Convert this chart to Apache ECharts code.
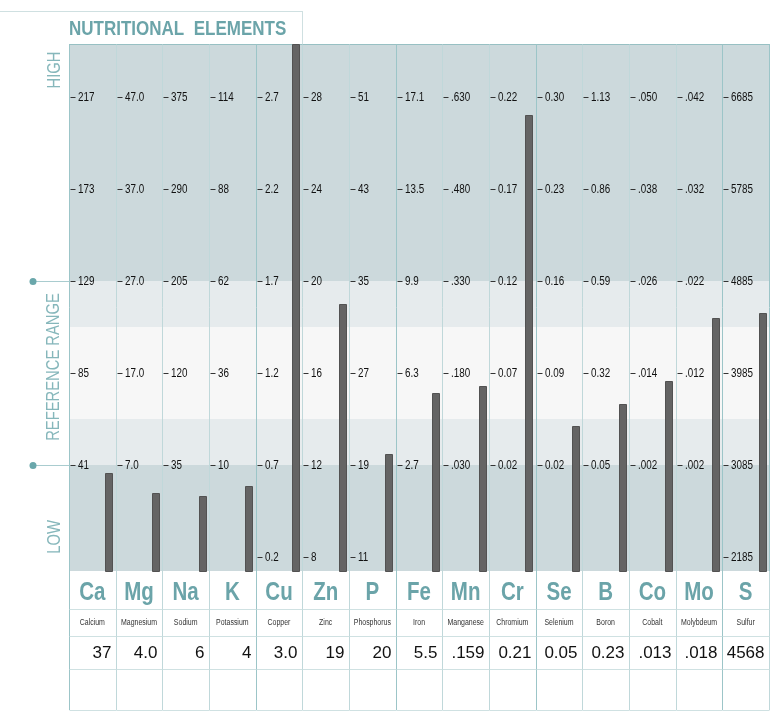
<!DOCTYPE html>
<html><head><meta charset="utf-8">
<script src="https://cdn.jsdelivr.net/npm/echarts@6/dist/echarts.min.js"></script>
<style>html,body{margin:0;padding:0;background:#fff}#c{width:782px;height:724px}</style>
</head><body><div id="c"></div>
<script>
const symbols = ['Ca','Mg','Na','K','Cu','Zn','P','Fe','Mn','Cr','Se','B','Co','Mo','S'];
const names = ['Calcium','Magnesium','Sodium','Potassium','Copper','Zinc','Phosphorus','Iron','Manganese','Chromium','Selenium','Boron','Cobalt','Molybdeum','Sulfur'];
const values = [37, 4.0, 6, 4, 3.0, 19, 20, 5.5, 0.159, 0.21, 0.05, 0.23, 0.013, 0.018, 4568];
const valueLabels = ['37','4.0','6','4','3.0','19','20','5.5','.159','0.21','0.05','0.23','.013','.018','4568'];
// per-element tick labels, from one step below the low reference limit up to the top
const tickLabels = [
  [null,'41','85','129','173','217'],
  [null,'7.0','17.0','27.0','37.0','47.0'],
  [null,'35','120','205','290','375'],
  [null,'10','36','62','88','114'],
  ['0.2','0.7','1.2','1.7','2.2','2.7'],
  ['8','12','16','20','24','28'],
  ['11','19','27','35','43','51'],
  [null,'2.7','6.3','9.9','13.5','17.1'],
  [null,'.030','.180','.330','.480','.630'],
  [null,'0.02','0.07','0.12','0.17','0.22'],
  [null,'0.02','0.09','0.16','0.23','0.30'],
  [null,'0.05','0.32','0.59','0.86','1.13'],
  [null,'.002','.014','.026','.038','.050'],
  [null,'.002','.012','.022','.032','.042'],
  ['2185','3085','3985','4885','5785','6685']
];
const groupStarts = [0, 4, 7, 10, 14];
const zoneLabels = ['HIGH', 'REFERENCE RANGE', 'LOW'];

// --- scales: each element is mapped to "levels" (0 = low ref limit, 2 = high ref limit)
const base = tickLabels.map(t => parseFloat(t[1]));
const step = tickLabels.map((t, i) => parseFloat(t[2]) - base[i]);
const levels = values.map((v, i) => (v - base[i]) / step[i]);
const LMIN = -1.152, LMAX = 4.576;

const SANS = "'Liberation Sans',Arial,sans-serif";
const NX = 0.82; // horizontal squeeze to mimic a narrow face
const TEAL = '#6ba4a9';
const SEP = '#c0d8da', SEP_DARK = '#9cc5c8';

const bandFrom = [LMIN, 0, 0.5, 1.5, 2];
const bandTo = [0, 0.5, 1.5, 2, LMAX];
const bandColor = ['#ccd9dc', '#e6ebed', '#f7f7f7', '#e6ebed', '#ccd9dc'];

const chart = echarts.init(document.getElementById('c'));
const idx = symbols.map((s, i) => i);

chart.setOption({
  animation: false,
  grid: [
    {left: 69, right: 13, top: 44, bottom: 153},
    {left: 69, right: 13, top: 571, bottom: 14}
  ],
  xAxis: [
    {type: 'category', gridIndex: 0, data: symbols, show: false},
    {type: 'category', gridIndex: 1, data: symbols, show: false}
  ],
  yAxis: [
    {type: 'value', gridIndex: 0, min: LMIN, max: LMAX, show: false},
    {type: 'value', gridIndex: 1, min: 0, max: 1, show: false}
  ],
  graphic: [
    {type: 'line', shape: {x1: 0, y1: 11.5, x2: 302, y2: 11.5}, style: {stroke: '#cfe0e1', lineWidth: 1}},
    {type: 'line', shape: {x1: 302.5, y1: 11, x2: 302.5, y2: 44}, style: {stroke: '#cfe0e1', lineWidth: 1}},
    {type: 'text', x: 69, y: 29, scaleX: 0.85, style: {text: 'NUTRITIONAL  ELEMENTS', font: 'bold 20px ' + SANS, fill: TEAL, verticalAlign: 'middle'}},
    {type: 'text', x: 55, y: 70, rotation: Math.PI / 2, scaleX: NX, style: {text: zoneLabels[0], font: '18px ' + SANS, fill: '#86b7bb', align: 'center', verticalAlign: 'middle'}},
    {type: 'text', x: 54, y: 367, rotation: Math.PI / 2, scaleX: NX, style: {text: zoneLabels[1], font: '18px ' + SANS, fill: '#86b7bb', align: 'center', verticalAlign: 'middle'}},
    {type: 'text', x: 55, y: 537, rotation: Math.PI / 2, scaleX: NX, style: {text: zoneLabels[2], font: '18px ' + SANS, fill: '#86b7bb', align: 'center', verticalAlign: 'middle'}}
  ],
  series: [
    { // background bands
      type: 'custom', xAxisIndex: 0, yAxisIndex: 0, z: 1,
      data: bandFrom.map((f, k) => [0, f, bandTo[k], k]),
      encode: {x: 0, y: [1, 2]},
      renderItem: (params, api) => {
        const cs = params.coordSys;
        const y1 = api.coord([0, api.value(2)])[1];
        const y2 = api.coord([0, api.value(1)])[1];
        return {type: 'rect', shape: {x: cs.x, y: y1, width: cs.width, height: y2 - y1},
          style: {fill: bandColor[api.value(3)]}};
      }
    },
    { // column separators, ticks and tick labels
      type: 'custom', xAxisIndex: 0, yAxisIndex: 0, z: 2,
      data: idx.map(i => [i, 0]),
      encode: {x: 0, y: 1},
      renderItem: (params, api) => {
        const i = api.value(0);
        const cs = params.coordSys;
        const w = api.size([1, 0])[0];
        const cx = api.coord([i, 0])[0];
        const left = Math.round(cx - w / 2) + 0.5;
        const right = Math.round(cx + w / 2) + 0.5;
        const ch = [];
        ch.push({type: 'line', shape: {x1: left, y1: cs.y, x2: left, y2: cs.y + cs.height},
          style: {stroke: groupStarts.includes(i) ? SEP_DARK : SEP, lineWidth: 1}});
        if (i === symbols.length - 1) {
          ch.push({type: 'line', shape: {x1: right, y1: cs.y, x2: right, y2: cs.y + cs.height},
            style: {stroke: SEP_DARK, lineWidth: 1}});
        }
        ch.push({type: 'line', shape: {x1: left, y1: cs.y + 0.5, x2: right, y2: cs.y + 0.5},
          style: {stroke: '#97c0c3', lineWidth: 1}});
        tickLabels[i].forEach((t, k) => {
          if (t === null) return;
          const y = Math.round(api.coord([i, k - 1])[1]) + 0.5;
          ch.push({type: 'line', shape: {x1: left + 1, y1: y, x2: left + 6, y2: y},
            style: {stroke: '#333', lineWidth: 1}});
          ch.push({type: 'text', x: left + 8.5, y: y, scaleX: NX, style: {text: t, font: '12px ' + SANS,
            fill: '#111', verticalAlign: 'middle', align: 'left'}});
        });
        if (i === 0) {
          [0, 2].forEach(l => {
            const y = Math.round(api.coord([0, l])[1]) + 0.5;
            ch.push({type: 'line', shape: {x1: 33, y1: y, x2: left, y2: y}, style: {stroke: '#a9cccf', lineWidth: 1}});
            ch.push({type: 'circle', shape: {cx: 33, cy: y, r: 3.5}, style: {fill: '#6aa7ab'}});
          });
        }
        return {type: 'group', children: ch};
      }
    },
    { // bars
      type: 'custom', xAxisIndex: 0, yAxisIndex: 0, z: 3,
      data: levels.map((l, i) => [i, l]),
      encode: {x: 0, y: 1},
      renderItem: (params, api) => {
        const i = api.value(0);
        const cs = params.coordSys;
        const w = api.size([1, 0])[0];
        const p = api.coord([i, api.value(1)]);
        const right = p[0] + w / 2;
        const yTop = Math.max(Math.round(p[1]), cs.y);
        const yBot = cs.y + cs.height;
        return {type: 'rect', shape: {x: Math.round(right - 10.3) + 0.5, y: yTop + 0.5, width: 7, height: yBot - yTop},
          style: {fill: '#646464', stroke: '#525252', lineWidth: 1}};
      }
    },
    { // table below
      type: 'custom', xAxisIndex: 1, yAxisIndex: 1, z: 2,
      data: idx.map(i => [i, 0]),
      encode: {x: 0, y: 1},
      renderItem: (params, api) => {
        const i = api.value(0);
        const cs = params.coordSys;
        const w = api.size([1, 0])[0];
        const cx = api.coord([i, 0])[0];
        const left = Math.round(cx - w / 2) + 0.5;
        const right = Math.round(cx + w / 2) + 0.5;
        const y0 = cs.y;
        const rows = [38, 65, 98, 139];
        const ch = [];
        ch.push({type: 'line', shape: {x1: left, y1: y0, x2: left, y2: y0 + 139},
          style: {stroke: groupStarts.includes(i) ? SEP_DARK : SEP, lineWidth: 1}});
        if (i === symbols.length - 1) {
          ch.push({type: 'line', shape: {x1: right, y1: y0, x2: right, y2: y0 + 139},
            style: {stroke: SEP, lineWidth: 1}});
        }
        rows.forEach(r => ch.push({type: 'line', shape: {x1: left, y1: y0 + r + 0.5, x2: right, y2: y0 + r + 0.5},
          style: {stroke: '#cfe1e2', lineWidth: 1}}));
        ch.push({type: 'text', x: cx, y: y0 + 22.5, scaleX: NX, style: {text: symbols[i], font: 'bold 25px ' + SANS,
          fill: TEAL, align: 'center', verticalAlign: 'middle'}});
        ch.push({type: 'text', x: cx, y: y0 + 52, scaleX: NX, style: {text: names[i], font: '8.5px ' + SANS,
          fill: '#333', align: 'center', verticalAlign: 'middle'}});
        ch.push({type: 'text', x: right - 5, y: y0 + 82, style: {text: valueLabels[i], font: '17px ' + SANS,
          fill: '#111', align: 'right', verticalAlign: 'middle'}});
        return {type: 'group', children: ch};
      }
    }
  ]
});
</script></body></html>
